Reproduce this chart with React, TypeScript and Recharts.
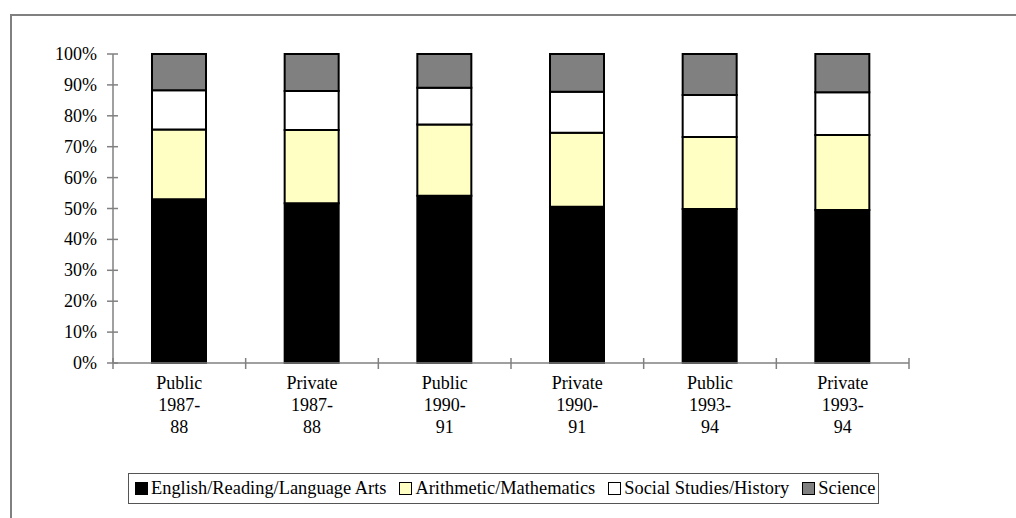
import React from "react";
import { BarChart, Bar, XAxis, YAxis } from "recharts";

const categories = [
  "Public 1987- 88",
  "Private 1987- 88",
  "Public 1990- 91",
  "Private 1990- 91",
  "Public 1993- 94",
  "Private 1993- 94",
];
const english = [53.0, 51.7, 54.1, 50.6, 49.8, 49.5];
const math = [22.6, 23.7, 23.1, 23.9, 23.3, 24.3];
const social = [12.7, 12.6, 11.9, 13.3, 13.6, 13.8];
const science = [11.7, 12.0, 10.9, 12.2, 13.3, 12.4];
const yTicks = [0, 10, 20, 30, 40, 50, 60, 70, 80, 90, 100];

const series = [
  { key: "english", name: "English/Reading/Language Arts", fill: "#000000" },
  { key: "math", name: "Arithmetic/Mathematics", fill: "#FFFFC4" },
  { key: "social", name: "Social Studies/History", fill: "#FFFFFF" },
  { key: "science", name: "Science", fill: "#808080" },
];

const data = categories.map((c, i) => ({
  name: c,
  english: english[i],
  math: math[i],
  social: social[i],
  science: science[i],
}));

const W = 1016;
const H = 518;
const AXIS_X = 113;
const AXIS_Y = 363;
const PLOT_RIGHT = 909;
const BAND = (PLOT_RIGHT - AXIS_X) / categories.length;
const FONT = "Liberation Serif, DejaVu Serif, serif";
const FONT_SIZE = 18;
const AXIS_COLOR = "#808080";

function YTick(props: any) {
  const { y, payload } = props;
  return (
    <g>
      <line x1={AXIS_X - 6} x2={AXIS_X + 5} y1={y} y2={y} stroke={AXIS_COLOR} strokeWidth={1.5} />
      <text x={AXIS_X - 16} y={y} textAnchor="end" dominantBaseline="central" style={{ fontFamily: FONT }} fontSize={FONT_SIZE} fill="#000">
        {payload.value}%
      </text>
    </g>
  );
}

function XTick(props: any) {
  const { x, payload, index } = props;
  const lines = String(payload.value).split(" ");
  return (
    <g>
      <line x1={x - BAND / 2} x2={x - BAND / 2} y1={AXIS_Y - 5} y2={AXIS_Y + 6} stroke={AXIS_COLOR} strokeWidth={1.5} />
      {index === categories.length - 1 && (
        <line x1={x + BAND / 2} x2={x + BAND / 2} y1={AXIS_Y - 5} y2={AXIS_Y + 6} stroke={AXIS_COLOR} strokeWidth={1.5} />
      )}
      <text x={x} y={AXIS_Y + 20} textAnchor="middle" dominantBaseline="central" style={{ fontFamily: FONT }} fontSize={FONT_SIZE} fill="#000">
        {lines.map((l, i) => (
          <tspan key={i} x={x} dy={i === 0 ? 0 : 22}>
            {l}
          </tspan>
        ))}
      </text>
    </g>
  );
}

export default function App() {
  return (
    <div style={{ position: "fixed", left: 0, top: 0, width: W, height: H, overflow: "hidden", background: "#fff", fontFamily: FONT }}>
      <div
        style={{
          position: "absolute",
          left: 10,
          top: 14,
          width: W + 20,
          height: H + 20,
          borderLeft: "2px solid #808080",
          borderTop: "2px solid #808080",
        }}
      />
      <div style={{ position: "absolute", left: 0, top: 0 }}>
        <BarChart
          width={W}
          height={H}
          data={data}
          barSize={54}
          margin={{ top: 54, right: W - PLOT_RIGHT, left: AXIS_X - 60, bottom: H - AXIS_Y - 70 }}
        >
          <XAxis
            dataKey="name"
            height={70}
            interval={0}
            tickLine={false}
            axisLine={{ stroke: AXIS_COLOR, strokeWidth: 1.5 }}
            tick={<XTick />}
          />
          <YAxis
            width={60}
            domain={[0, 100]}
            ticks={yTicks}
            interval={0}
            tickLine={false}
            axisLine={{ stroke: AXIS_COLOR, strokeWidth: 1.5 }}
            tick={<YTick />}
          />
          {series.map((s) => (
            <Bar
              key={s.key}
              dataKey={s.key}
              name={s.name}
              stackId="a"
              fill={s.fill}
              stroke="#000"
              strokeWidth={2}
              isAnimationActive={false}
            />
          ))}
        </BarChart>
      </div>
      <div
        style={{
          position: "absolute",
          left: 128,
          top: 473,
          width: 751,
          height: 31,
          boxSizing: "border-box",
          border: "1.5px solid #555",
          display: "flex",
          alignItems: "center",
          paddingLeft: 6,
          fontFamily: FONT,
          fontSize: 18.4,
          whiteSpace: "nowrap",
        }}
      >
        {series.map((s) => (
          <span key={s.key} style={{ display: "flex", alignItems: "center", marginRight: 13 }}>
            <span
              style={{
                display: "inline-block",
                width: 13,
                height: 13,
                boxSizing: "border-box",
                background: s.fill,
                border: "1.5px solid #000",
                marginRight: 3,
              }}
            />
            {s.name}
          </span>
        ))}
      </div>
    </div>
  );
}
